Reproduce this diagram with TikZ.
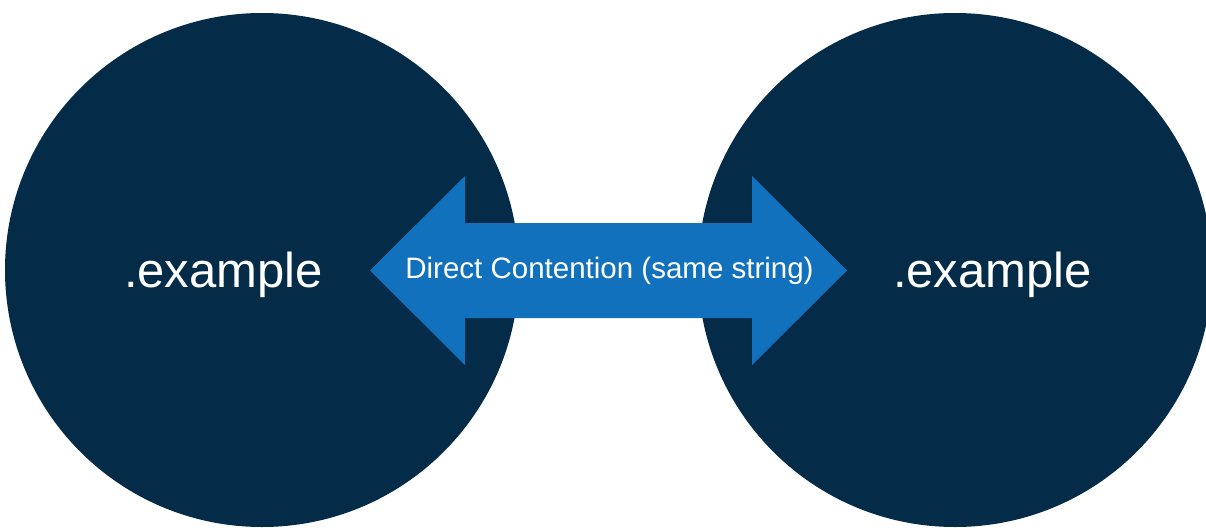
\documentclass[tikz,border=0pt]{standalone}
\usepackage{fontspec}
\setmainfont{Liberation Sans}
\definecolor{navy}{RGB}{4,43,71}
\definecolor{arrowblue}{RGB}{18,113,188}
\tikzset{
  bigcircle/.style={circle, fill=navy, draw=none, minimum size=514pt, inner sep=0pt},
  bigtext/.style={text=white, font=\fontsize{49}{58}\selectfont, anchor=base, inner sep=0pt},
  arrowtext/.style={text=white, font=\fontsize{29.5}{35}\selectfont, anchor=base, inner sep=0pt},
  arrowfill/.style={fill=arrowblue, draw=none}
}
\begin{document}
\begin{tikzpicture}[x=1pt,y=-1pt]
\useasboundingbox (0,0) rectangle (1206,527);
\clip (0,0) rectangle (1206,527);
\fill[white] (0,0) rectangle (1206,527);
\node[bigcircle] (L) at (262,270) {};
\node[bigcircle] (R) at (955,270) {};
\node[bigtext] (Lt) at (223.5,287) {.example};
\node[bigtext] (Rt) at (992.5,287) {.example};
\coordinate (ltip) at (370,270.5);
\coordinate (rtip) at (847,270.5);
\fill[arrowfill] (ltip) -- (465,176) -- (465,223) -- (752,223) -- (752,176) -- (rtip)
  -- (752,365) -- (752,318) -- (465,318) -- (465,365) -- cycle;
\node[arrowtext] (A) at (609.5,278) {Direct Contention (same string)};
\end{tikzpicture}
\end{document}
